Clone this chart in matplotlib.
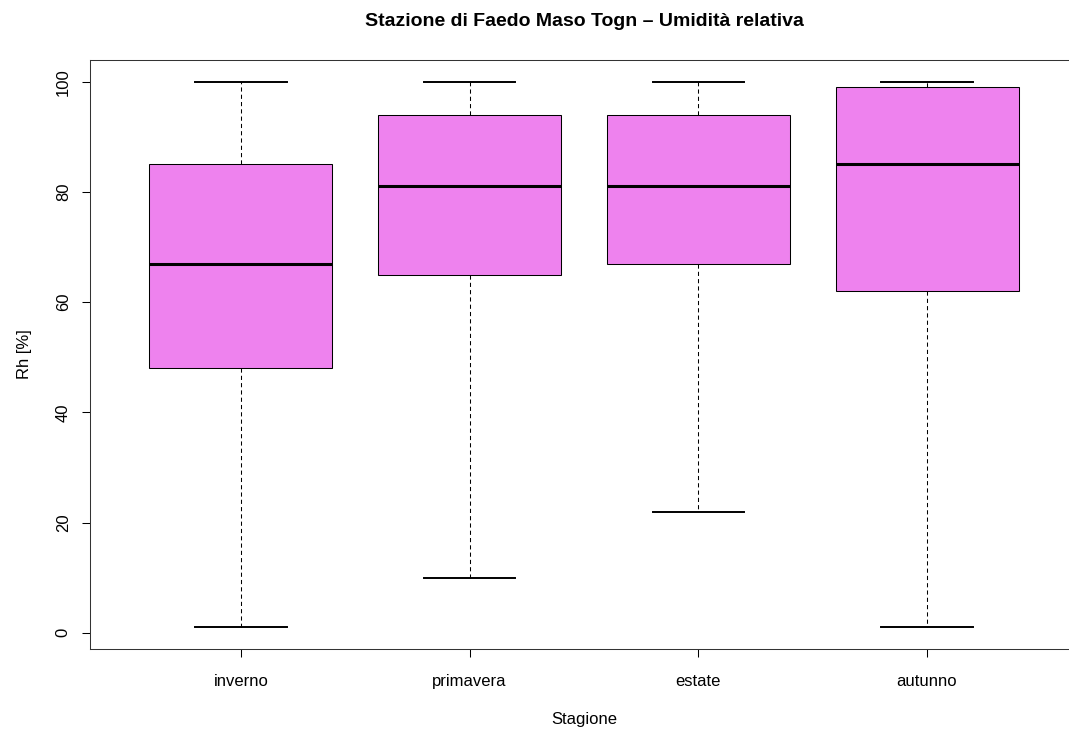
import matplotlib
matplotlib.use("Agg")
import matplotlib.pyplot as plt

# valori (Rh %)
stagioni = ["inverno", "primavera", "estate", "autunno"]
minimo = [1, 10, 22, 1]
q1 = [48, 65, 67, 62]
mediana = [67, 81, 81, 85]
q3 = [85, 94, 94, 99]
massimo = [100, 100, 100, 100]

plt.rcParams['font.family'] = ['Liberation Sans', 'DejaVu Sans']

fig = plt.figure(figsize=(10.69, 7.31), dpi=100)
# il riquadro esce un po' a destra, come nell'originale
ax = fig.add_axes([90 / 1069, 82 / 731, 988 / 1069, 589 / 731])

stats = []
for i in range(len(stagioni)):
    stats.append({'label': stagioni[i], 'whislo': minimo[i], 'q1': q1[i],
                  'med': mediana[i], 'q3': q3[i], 'whishi': massimo[i], 'fliers': []})

ax.bxp(stats, positions=range(1, 5), widths=0.8, patch_artist=True, showfliers=False,
       boxprops=dict(facecolor='violet', edgecolor='black', linewidth=0.75),
       medianprops=dict(color='black', linewidth=2.2),
       whiskerprops=dict(color='black', linewidth=0.75, linestyle=(0, (4, 3))),
       capprops=dict(color='black', linewidth=1.4), capwidths=0.4)

ax.set_xlim(0.34, 4.66)
ax.set_ylim(-2.96, 103.96)
ax.set_yticks([0, 20, 40, 60, 80, 100])
ax.set_yticklabels(['0', '20', '40', '60', '80', '100'], rotation=90, va='center')
ax.set_xticks(range(1, 5))
ax.set_xticklabels(stagioni)
ax.tick_params(labelsize=12, length=5.8, width=0.75)
ax.tick_params(axis='x', pad=12)
ax.tick_params(axis='y', pad=8)
for s in ax.spines.values():
    s.set_linewidth(0.75)
    s.set_color('#333333')

ax.set_xlabel("Stagione", fontsize=12, labelpad=17)
ax.set_ylabel("Rh [%]", fontsize=12, labelpad=17)
fig.text(584 / 1069, 1 - 21 / 731, "Stazione di Faedo Maso Togn – Umidità relativa",
         ha='center', va='center', fontsize=14, fontweight='bold')

fig.savefig("out.png", dpi=100)
